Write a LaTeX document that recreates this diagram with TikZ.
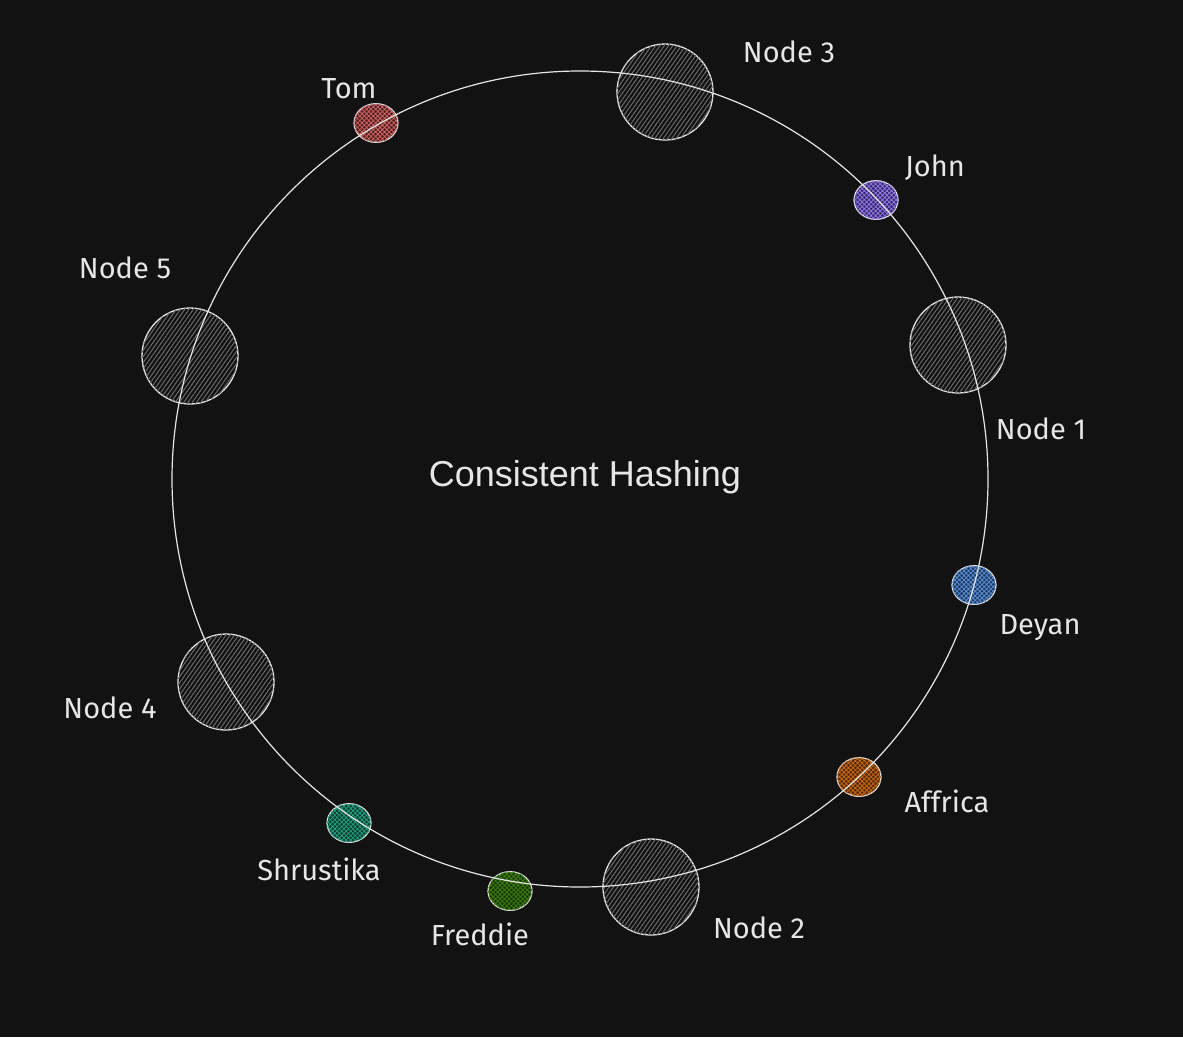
\documentclass[tikz,border=0pt]{standalone}
\usepackage{fontspec}
\setmainfont{Liberation Sans}
\newfontfamily\handfont{Fira Sans}
\usetikzlibrary{patterns.meta}
\definecolor{bg}{HTML}{121212}
\definecolor{ink}{HTML}{E6E6E6}
\definecolor{srvhatch}{HTML}{6A6A6A}
\definecolor{tomA}{HTML}{4E1E1E}\definecolor{tomB}{HTML}{D06565}
\definecolor{johnA}{HTML}{35286A}\definecolor{johnB}{HTML}{9378E6}
\definecolor{deyA}{HTML}{1B3762}\definecolor{deyB}{HTML}{5B8FD2}
\definecolor{affA}{HTML}{522600}\definecolor{affB}{HTML}{C96A15}
\definecolor{shrA}{HTML}{0A3A30}\definecolor{shrB}{HTML}{22A07F}
\definecolor{freA}{HTML}{163604}\definecolor{freB}{HTML}{3E7F15}
\tikzset{
  server/.style={circle, draw=ink, line width=1.3pt, minimum size=96pt, inner sep=0pt,
    fill=bg, postaction={pattern={Lines[angle=55,distance=3.5pt,line width=1pt]}, pattern color=srvhatch}},
  key/.style args={#1/#2}{ellipseish, draw=ink, line width=1.2pt, inner sep=0pt,
    fill=#1, postaction={pattern={Hatch[angle=45,distance=3.2pt,line width=0.8pt]}, pattern color=#2}},
  ellipseish/.style={circle, minimum size=44pt, yscale=0.88},
  lbl/.style={text=ink, font=\handfont\fontsize{29}{32}\selectfont, inner sep=0pt},
  ringst/.style={circle, draw=ink, line width=1.2pt, minimum size=816pt, inner sep=0pt}
}
\begin{document}
\begin{tikzpicture}[x=1pt,y=-1pt]
\fill[bg] (0,0) rectangle (1183,1037);
\useasboundingbox (0,0) rectangle (1183,1037);

% servers
\node[server] (n3) at (665,92) {};
\node[server] (n1) at (958,345) {};
\node[server] (n2) at (651,887) {};
\node[server] (n4) at (226,682) {};
\node[server] (n5) at (190,356) {};

% keys
\node[key={tomA/tomB}] (tom) at (376,123) {};
\node[key={johnA/johnB}] (john) at (876,200) {};
\node[key={deyA/deyB}] (deyan) at (974,585) {};
\node[key={affA/affB}] (affrica) at (859,777) {};
\node[key={shrA/shrB}] (shrustika) at (349,823) {};
\node[key={freA/freB}] (freddie) at (510,891) {};

% ring on top
\node[ringst] (ring) at (580,479) {};

% labels
\node[lbl] (l3) at (789,52) {Node 3};
\node[lbl] (l1) at (1041,429) {Node 1};
\node[lbl] (l2) at (759,928) {Node 2};
\node[lbl] (l4) at (110,708) {Node 4};
\node[lbl] (l5) at (125,268) {Node 5};
\node[lbl] (ltom) at (349,89) {Tom};
\node[lbl] (ljohn) at (935,168) {John};
\node[lbl] (ldeyan) at (1040,628) {Deyan};
\node[lbl] (laff) at (947,801) {Affrica};
\node[lbl] (lshr) at (319,869) {Shrustika};
\node[lbl] (lfre) at (480,934) {Freddie};

\node[text=ink, font=\fontsize{36}{40}\selectfont, inner sep=0pt] (title) at (585,477) {Consistent Hashing};
\end{tikzpicture}
\end{document}
